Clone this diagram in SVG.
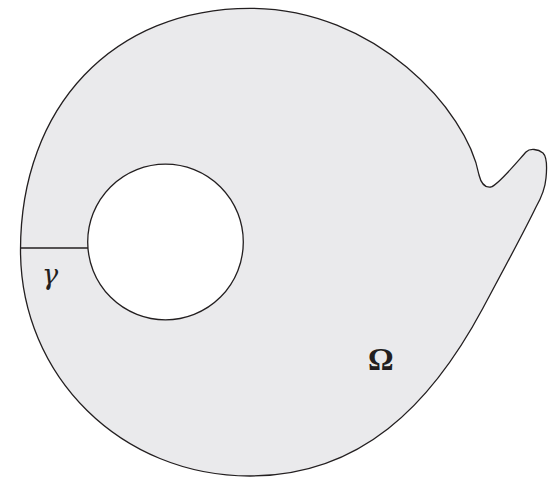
<svg xmlns="http://www.w3.org/2000/svg" width="552" height="477" viewBox="0 0 552 477">
<style>
.edge{stroke:#231f20;stroke-width:1.3;stroke-linejoin:round}
.lbl{font-family:"Liberation Serif","DejaVu Serif",serif;fill:#231f20}
.gam{font-family:"DejaVu Serif",serif;font-style:italic;fill:#231f20}
</style>
<rect width="552" height="477" fill="#ffffff"/>
<g id="domain">
<path class="edge" fill="#eaeaec" d="M 20.5,250 C 20.5,106.4 113.7,8.3 250,8.3 C 375,8.3 467,110 479,175 C 481,183 485,188 491,187 C 498,185 517,162 526,152 C 530,148 538,149 543,153 C 547,157 547,168 546,178 C 545,190 540,200 536,207 C 524,232 498,280 483,308 C 430.5,406 360,476 250,476 C 121.5,476 20.5,376.6 20.5,250 Z"/>
</g>
<g id="hole">
<circle class="edge" cx="165.5" cy="242" r="77.8" fill="#ffffff"/>
</g>
<g id="cut">
<line class="edge" x1="20.5" y1="248" x2="88" y2="248"/>
</g>
<text class="gam" x="42" y="284" font-size="27">γ</text>
<text class="lbl" x="368" y="369.5" font-size="32" font-weight="bold">Ω</text>
</svg>
